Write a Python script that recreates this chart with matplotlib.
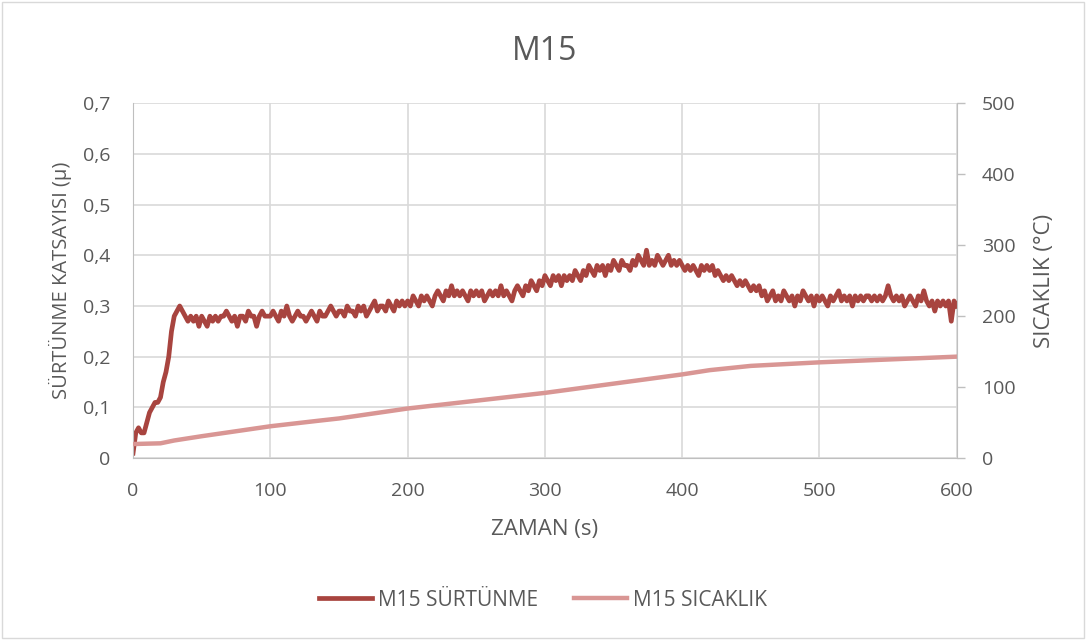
import numpy as np
import matplotlib.pyplot as plt
from matplotlib.ticker import FuncFormatter

plt.rcParams['font.family'] = ['Open Sans', 'DejaVu Sans']

# friction coefficient, one reading every 2 s (10 readings per row)
time_mu = np.arange(0, 601, 2)
mu = [
    0.01, 0.05, 0.06, 0.05, 0.05, 0.07, 0.09, 0.10, 0.11, 0.11,
    0.12, 0.15, 0.17, 0.20, 0.25, 0.28, 0.29, 0.30, 0.29, 0.28,
    0.27, 0.28, 0.27, 0.28, 0.26, 0.28, 0.27, 0.26, 0.28, 0.27,
    0.28, 0.27, 0.28, 0.28, 0.29, 0.28, 0.27, 0.28, 0.26, 0.28,
    0.28, 0.27, 0.29, 0.28, 0.28, 0.26, 0.28, 0.29, 0.28, 0.28,
    0.28, 0.29, 0.28, 0.27, 0.29, 0.28, 0.30, 0.28, 0.27, 0.28,
    0.29, 0.28, 0.28, 0.27, 0.28, 0.29, 0.28, 0.27, 0.29, 0.28,
    0.28, 0.29, 0.30, 0.29, 0.28, 0.29, 0.29, 0.28, 0.30, 0.29,
    0.29, 0.28, 0.30, 0.29, 0.30, 0.28, 0.29, 0.30, 0.31, 0.29,
    0.30, 0.30, 0.29, 0.31, 0.30, 0.29, 0.31, 0.30, 0.31, 0.30,
    0.31, 0.30, 0.32, 0.31, 0.30, 0.32, 0.31, 0.32, 0.31, 0.30,
    0.32, 0.33, 0.32, 0.31, 0.33, 0.32, 0.34, 0.32, 0.33, 0.32,
    0.33, 0.32, 0.31, 0.33, 0.32, 0.33, 0.32, 0.33, 0.31, 0.32,
    0.33, 0.32, 0.33, 0.32, 0.34, 0.32, 0.33, 0.32, 0.31, 0.33,
    0.34, 0.33, 0.32, 0.34, 0.33, 0.35, 0.34, 0.33, 0.35, 0.34,
    0.36, 0.35, 0.34, 0.36, 0.35, 0.36, 0.34, 0.36, 0.35, 0.36,
    0.35, 0.37, 0.36, 0.35, 0.37, 0.36, 0.38, 0.37, 0.36, 0.38,
    0.37, 0.38, 0.36, 0.38, 0.37, 0.39, 0.38, 0.37, 0.39, 0.38,
    0.38, 0.37, 0.39, 0.38, 0.40, 0.39, 0.38, 0.41, 0.38, 0.39,
    0.38, 0.40, 0.39, 0.38, 0.39, 0.40, 0.38, 0.39, 0.38, 0.39,
    0.38, 0.37, 0.38, 0.37, 0.38, 0.37, 0.36, 0.38, 0.37, 0.38,
    0.37, 0.38, 0.36, 0.37, 0.36, 0.35, 0.36, 0.35, 0.36, 0.35,
    0.34, 0.35, 0.34, 0.35, 0.34, 0.33, 0.34, 0.33, 0.34, 0.32,
    0.33, 0.31, 0.32, 0.33, 0.31, 0.32, 0.31, 0.33, 0.32, 0.31,
    0.32, 0.30, 0.32, 0.31, 0.33, 0.32, 0.31, 0.32, 0.30, 0.32,
    0.31, 0.32, 0.31, 0.30, 0.32, 0.31, 0.32, 0.33, 0.31, 0.32,
    0.31, 0.32, 0.30, 0.32, 0.31, 0.32, 0.31, 0.32, 0.32, 0.31,
    0.32, 0.31, 0.32, 0.31, 0.32, 0.34, 0.32, 0.31, 0.32, 0.31,
    0.32, 0.30, 0.31, 0.32, 0.31, 0.30, 0.32, 0.31, 0.33, 0.31,
    0.30, 0.31, 0.29, 0.31, 0.30, 0.31, 0.30, 0.31, 0.27, 0.31,
    0.30,
]

# temperature (°C)
time_t = [0, 10, 20, 30, 50, 100, 136, 150, 200, 250, 300, 350, 400, 420, 450, 500, 550, 600]
temp = [20, 20.5, 21, 25, 31, 45, 53, 56, 70, 81, 92, 105, 118, 124, 130, 135, 139, 143]

red = '#A8443F'
pink = '#D99694'
grey = '#595959'
light = '#BFBFBF'

fig = plt.figure(figsize=(10.86, 6.40), dpi=100)
fig.add_artist(plt.Rectangle((0.002, 0.003), 0.996, 0.994, transform=fig.transFigure,
                             fill=False, edgecolor='#D9D9D9', lw=1))
ax = fig.add_axes([0.1225, 0.284, 0.7585, 0.555])
ax2 = ax.twinx()

l1, = ax.plot(time_mu, mu, color=red, lw=3.4, label='M15 SÜRTÜNME')
l2, = ax2.plot(time_t, temp, color=pink, lw=3.2, label='M15 SICAKLIK')

ax.set_xlim(0, 600)
ax.set_ylim(0, 0.7)
ax2.set_ylim(0, 500)
ax.set_xticks(range(0, 601, 100))
ax.set_yticks(np.arange(0, 0.71, 0.1))
ax2.set_yticks(range(0, 501, 100))
ax.yaxis.set_major_formatter(FuncFormatter(lambda v, p: '0' if v == 0 else f'{v:.1f}'.replace('.', ',')))

ax.grid(True, color='#D9D9D9', lw=1.2)
ax.set_axisbelow(True)
for a in (ax, ax2):
    for s in a.spines.values():
        s.set_visible(False)
ax.spines['left'].set_visible(True)
ax.spines['left'].set_color(light)
ax.spines['bottom'].set_visible(True)
ax.spines['bottom'].set_color(light)
ax2.spines['right'].set_visible(True)
ax2.spines['right'].set_color(light)

ax.tick_params(axis='x', length=0, colors=grey, labelsize=14, pad=17)
ax.tick_params(axis='y', length=0, colors=grey, labelsize=14, pad=16.5)
ax2.tick_params(axis='y', length=6, width=1, direction='out', color=light,
                labelcolor=grey, labelsize=14, pad=12)

ax.set_title('M15', fontsize=23, color=grey, pad=31)
ax.set_xlabel('ZAMAN (s)', fontsize=16, color=grey, labelpad=14)
ax.set_ylabel('SÜRTÜNME KATSAYISI (µ)', fontsize=14.5, color=grey, labelpad=8)
ax2.set_ylabel('SICAKLIK (°C)', fontsize=16, color=grey, labelpad=13)

fig.legend(handles=[l1, l2], loc='center', bbox_to_anchor=(0.5, 0.0625), ncol=2,
           frameon=False, fontsize=15, labelcolor=grey, handlelength=2.55,
           columnspacing=1.75, handletextpad=0.25)

fig.savefig('out.png', dpi=100)
